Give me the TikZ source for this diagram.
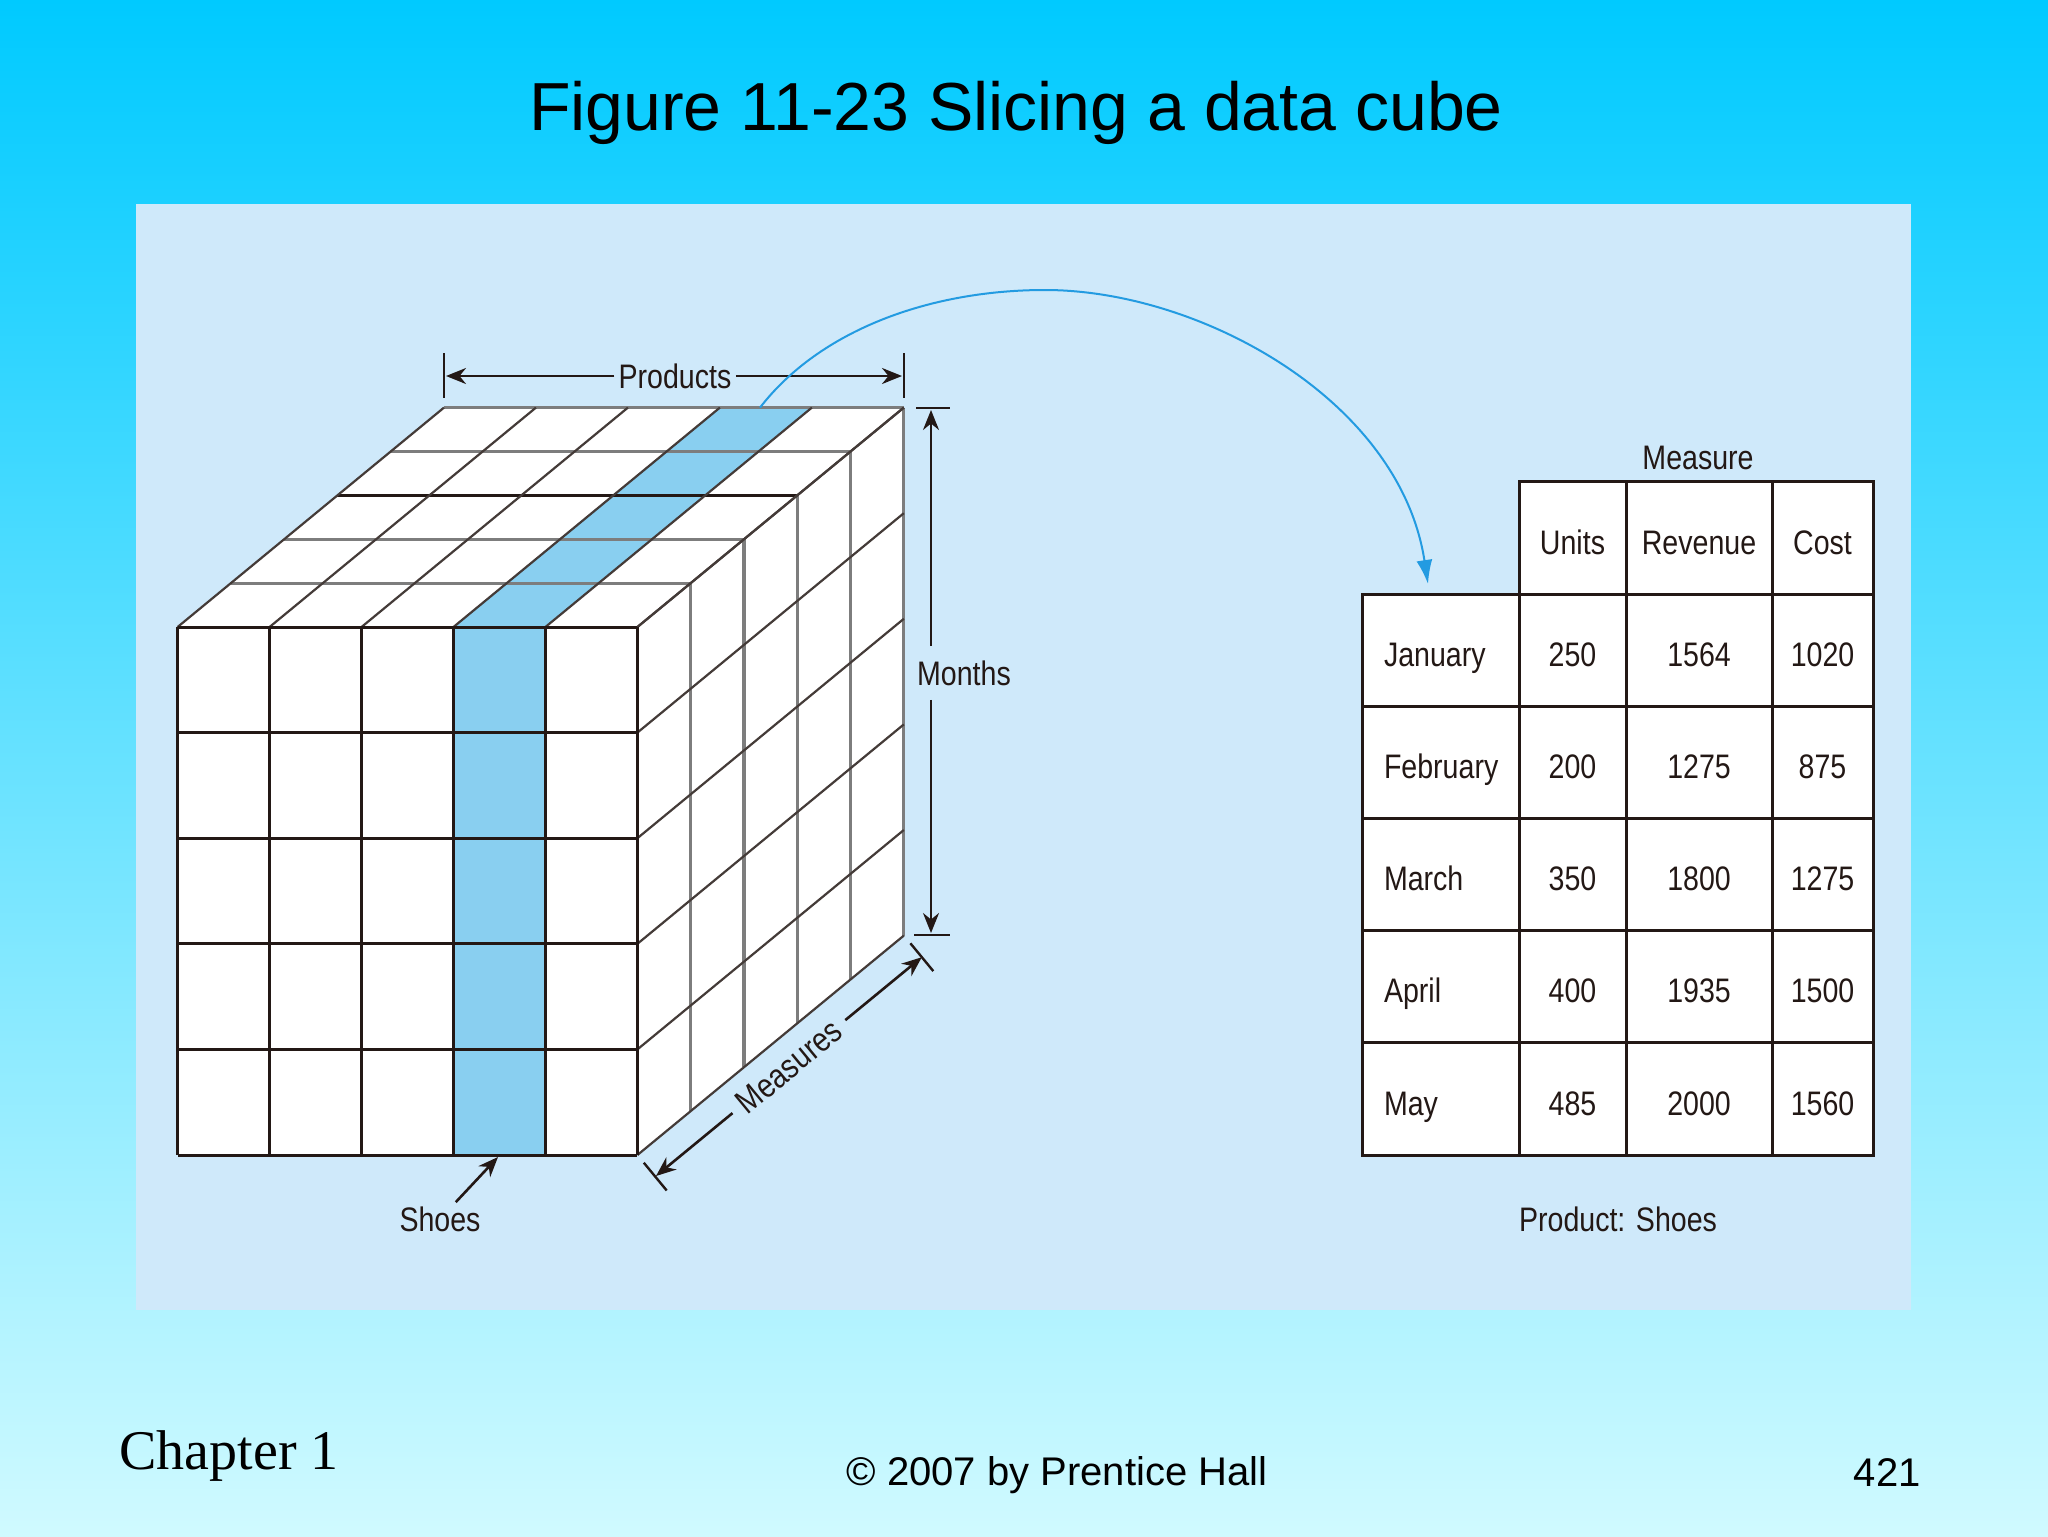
\documentclass[tikz,border=0pt]{standalone}
\usepackage{fontspec}
\setmainfont{Liberation Sans}
\newfontfamily\figfont[FakeStretch=0.84]{Liberation Sans}
\newfontfamily\serifft{Liberation Serif}
\usetikzlibrary{arrows.meta,calc}
\definecolor{bgtop}{RGB}{0,202,255}
\definecolor{bgbot}{RGB}{208,250,255}
\definecolor{panel}{RGB}{207,233,250}
\definecolor{slice}{RGB}{137,207,240}
\definecolor{ink}{RGB}{35,24,21}
\definecolor{gridgray}{RGB}{125,125,125}
\definecolor{curveblue}{RGB}{35,155,225}
\begin{document}
\begin{tikzpicture}[x=0.5pt,y=-0.5pt,
  lbl/.style={font=\figfont\fontsize{17}{20}\selectfont, text=ink, inner sep=2pt},
  dimarrow/.style={draw=ink, line width=1.3pt, -{Stealth[length=10pt,width=8pt]}},
  tickline/.style={draw=ink, line width=1.2pt},
  frontline/.style={draw=ink, line width=1.5pt},
  diagline/.style={draw=ink!85!white, line width=1.1pt},
  grayline/.style={draw=gridgray, line width=1.6pt},
  cell/.style={draw=ink, line width=1.5pt, fill=white, inner sep=0pt, outer sep=0pt,
    minimum height=56.1pt, text height=16pt, text depth=0pt,
    font=\figfont\fontsize{17}{20}\selectfont, text=ink},
  slicearrow/.style={draw=curveblue, line width=1pt, -{Latex[length=12pt,width=8pt]}}
]
% background
\shade[top color=bgtop, bottom color=bgbot] (0,0) rectangle (2048,1536);
\useasboundingbox (0,0) rectangle (2048,1536);
\fill[panel] (136,204) rectangle (1911,1310);

% title
\node[anchor=base, font=\fontsize{34}{40}\selectfont, inner sep=0pt] (title) at (1016,131) {Figure 11-23 Slicing a data cube};

% cube fills
\fill[white] (177.6,627) rectangle (637.4,1155);
\fill[white] (177.6,627) -- (637.4,627) -- (904,407.6) -- (444,407.6) -- cycle;
\fill[white] (637.4,627) -- (904,407.6) -- (904,935.6) -- (637.4,1155) -- cycle;
\fill[slice] (453.5,627) rectangle (545.4,1155);
\fill[slice] (453.5,627) -- (545.4,627) -- (811.8,407.6) -- (719.9,407.6) -- cycle;

% layer lines (top horizontals and right verticals)
\foreach \k in {1,...,5}{
  \pgfmathsetmacro\ox{\k*53.28}
  \pgfmathsetmacro\oy{\k*43.88}
  \draw[grayline] (637.4+\ox,627-\oy) -- (637.4+\ox,1155-\oy);
  \draw[grayline] (177.6+\ox,627-\oy) -- (637.4+\ox,627-\oy);
}
\draw[draw=ink, line width=1.5pt] (177.6+159.84,627-131.64) -- (637.4+159.84,627-131.64);

% receding diagonals
\foreach \i in {0,...,5}{
  \draw[diagline] (177.6+\i*91.96,627) -- ++(266.4,-219.4);
}
\foreach \j in {0,...,5}{
  \draw[diagline] (637.4,627+\j*105.6) -- ++(266.4,-219.4);
}

% front grid
\foreach \i in {0,...,5}{
  \draw[frontline] (177.6+\i*91.96,627) -- ++(0,528);
}
\foreach \j in {0,...,5}{
  \draw[frontline] (177.6,627+\j*105.6) -- ++(459.8,0);
}

% Products dimension
\draw[tickline] (444,353) -- (444,398);
\draw[tickline] (904,353) -- (904,398);
\node[lbl, inner xsep=2pt] (prod) at (675,376) {Products};
\coordinate (pleft) at (446,376);
\coordinate (pright) at (902,376);
\draw[dimarrow] (prod.west) -- (pleft);
\draw[dimarrow] (prod.east) -- (pright);

% Months dimension
\draw[tickline] (916,408) -- (950,408);
\draw[tickline] (914,935) -- (950,935);
\node[lbl, inner ysep=7pt] (mon) at (964,673) {Months};
\coordinate (mtop) at (931,410);
\coordinate (mbot) at (931,933);
\draw[dimarrow] (mtop |- mon.north) -- (mtop);
\draw[dimarrow] (mbot |- mon.south) -- (mbot);

% Measures dimension
\draw[tickline] (643.8,1162.7) -- (666.7,1190.5);
\draw[tickline] (910.4,943.3) -- (933.3,971.1);
\coordinate (mA) at (656,1176);
\coordinate (mB) at (921.8,957.2);
\node[lbl, rotate=39.5, inner xsep=5pt] (meas) at ($(mA)!0.5!(mB)$) {Measures};
\draw[dimarrow] (meas.west) -- (mA);
\draw[dimarrow] (meas.east) -- (mB);

% Shoes
\node[lbl] (shoes) at (440,1219) {Shoes};
\coordinate (stip) at (498,1157);
\draw[dimarrow] (shoes) -- (stip);

% slice curve
\coordinate (sliceTop) at (760,407.6);
\coordinate (peak) at (1045,290);
\coordinate (ctip) at (1428,584);
\draw[slicearrow] (sliceTop) .. controls (820,330) and (930,290) .. (peak)
   .. controls (1200,290) and (1400,400) .. (ctip);

% table
\node[lbl] (measure) at (1698,458) {Measure};
\node[cell, minimum width=53.5pt] (hU) at (1572.5,538) {Units};
\node[cell, minimum width=73pt] (hR) at (1699,538) {Revenue};
\node[cell, minimum width=50.5pt] (hC) at (1822.5,538) {Cost};
\foreach \nm/\a/\b/\c [count=\r] in {January/250/1564/1020, February/200/1275/875,
    March/350/1800/1275, April/400/1935/1500, May/485/2000/1560}{
  \pgfmathsetmacro\yc{538+\r*112.2}
  \node[cell, minimum width=78.5pt, text width=56.5pt, inner xsep=11pt, align=left] (m\r) at (1440.5,\yc) {\nm};
  \node[cell, minimum width=53.5pt] (u\r) at (1572.5,\yc) {\a};
  \node[cell, minimum width=73pt] (v\r) at (1699,\yc) {\b};
  \node[cell, minimum width=50.5pt] (c\r) at (1822.5,\yc) {\c};
}
\node[lbl] (prodshoes) at (1618,1219) {Product: Shoes};

% footer
\node[anchor=base west, font=\serifft\fontsize{28}{33}\selectfont, inner sep=0pt] (chap) at (119,1469) {Chapter 1};
\node[anchor=base, font=\fontsize{20}{24}\selectfont, inner sep=0pt] (copy) at (1057,1485) {© 2007 by Prentice Hall};
\node[anchor=base east, font=\fontsize{20}{24}\selectfont, inner sep=0pt] (pg) at (1921,1486) {421};
\end{tikzpicture}
\end{document}
